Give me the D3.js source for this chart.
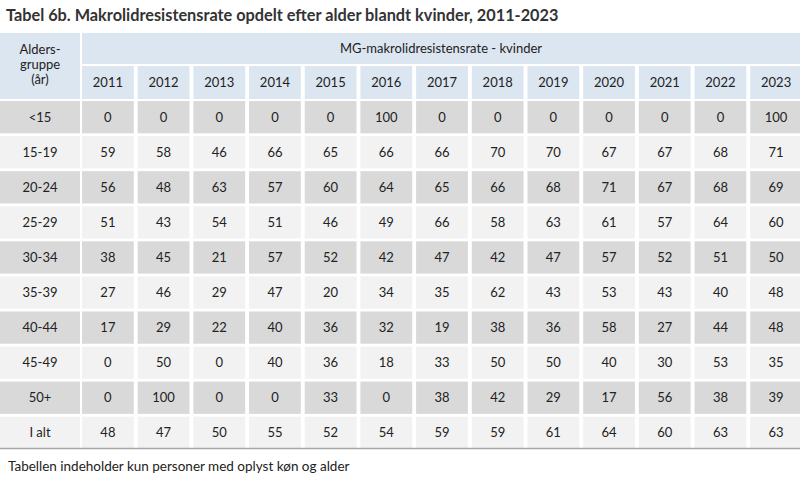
<!DOCTYPE html>
<html><head><meta charset="utf-8">
<script src="https://cdn.jsdelivr.net/npm/d3@7"></script>
<style>body{margin:0;background:#fff}</style>
</head><body><div id="chart"></div>
<script>
// --- Data ---
const years = [2011,2012,2013,2014,2015,2016,2017,2018,2019,2020,2021,2022,2023];
const groups = ['<15','15-19','20-24','25-29','30-34','35-39','40-44','45-49','50+','I alt'];
const rates = [
  [0,0,0,0,0,100,0,0,0,0,0,0,100],
  [59,58,46,66,65,66,66,70,70,67,67,68,71],
  [56,48,63,57,60,64,65,66,68,71,67,68,69],
  [51,43,54,51,46,49,66,58,63,61,57,64,60],
  [38,45,21,57,52,42,47,42,47,57,52,51,50],
  [27,46,29,47,20,34,35,62,43,53,43,40,48],
  [17,29,22,40,36,32,19,38,36,58,27,44,48],
  [0,50,0,40,36,18,33,50,50,40,30,53,35],
  [0,100,0,0,33,0,38,42,29,17,56,38,39],
  [48,47,50,55,52,54,59,59,61,64,60,63,63]
];
const title = 'Tabel 6b. Makrolidresistensrate opdelt efter alder blandt kvinder, 2011-2023';
const note = 'Tabellen indeholder kun personer med oplyst køn og alder';

const W = 800, H = 480, font = 'Lato, "DejaVu Sans", sans-serif';
const svg = d3.select('#chart').append('svg').attr('width', W).attr('height', H)
  .style('font-family', font);

const x = d3.scaleBand().domain(years).range([82, 802]).paddingInner(0.07).paddingOuter(0);
const y = d3.scaleBand().domain(groups).range([100, 450]).paddingInner(0.08).paddingOuter(0.03);

svg.append('text').attr('x', 6).attr('y', 21).attr('font-size', 16.3).attr('font-weight', 700)
  .attr('fill', '#333').text(title);

// --- Header ---
const headBlue = '#dce6f1';
svg.append('rect').attr('x', 0).attr('y', 33).attr('width', 80).attr('height', 66).attr('fill', headBlue);
svg.append('rect').attr('x', x(2011)).attr('y', 33).attr('width', 800 - x(2011)).attr('height', 31).attr('fill', headBlue);
['Alders-','gruppe','(år)'].forEach((t, i) => {
  svg.append('text').attr('x', 40).attr('y', 54 + i * 15).attr('text-anchor', 'middle')
    .attr('font-size', 13).attr('fill', '#222').text(t);
});
svg.append('text').attr('x', (x(2011) + 800) / 2).attr('y', 53).attr('text-anchor', 'middle')
  .attr('font-size', 13).attr('fill', '#222').text('MG-makrolidresistensrate - kvinder');

svg.selectAll('.yh').data(years).enter().append('rect')
  .attr('x', d => x(d)).attr('y', 66).attr('width', x.bandwidth()).attr('height', 33).attr('fill', headBlue);
svg.selectAll('.yt').data(years).enter().append('text')
  .attr('x', d => x(d) + x.bandwidth() / 2).attr('y', 87).attr('text-anchor', 'middle')
  .attr('font-size', 13).attr('fill', '#222').text(d => d);

// --- Body ---
groups.forEach((g, gi) => {
  const fill = gi % 2 === 0 ? '#d9d9d9' : '#f2f2f2';
  const cy = y(g) + y.bandwidth() / 2 + 4.5;
  svg.append('rect').attr('x', 0).attr('y', y(g)).attr('width', 80).attr('height', y.bandwidth()).attr('fill', fill);
  svg.append('text').attr('x', 40).attr('y', cy).attr('text-anchor', 'middle')
    .attr('font-size', 13).attr('fill', '#222').text(g);
  years.forEach((yr, yi) => {
    svg.append('rect').attr('x', x(yr)).attr('y', y(g)).attr('width', x.bandwidth()).attr('height', y.bandwidth()).attr('fill', fill);
    svg.append('text').attr('x', x(yr) + x.bandwidth() / 2).attr('y', cy).attr('text-anchor', 'middle')
      .attr('font-size', 13).attr('fill', '#222').text(rates[gi][yi]);
  });
});

svg.append('line').attr('x1', 0).attr('x2', 800).attr('y1', 448.5).attr('y2', 448.5)
  .attr('stroke', '#a6a6a6').attr('stroke-width', 1.5);
svg.append('text').attr('x', 8).attr('y', 471).attr('font-size', 13.5).attr('fill', '#222').text(note);
</script></body></html>
